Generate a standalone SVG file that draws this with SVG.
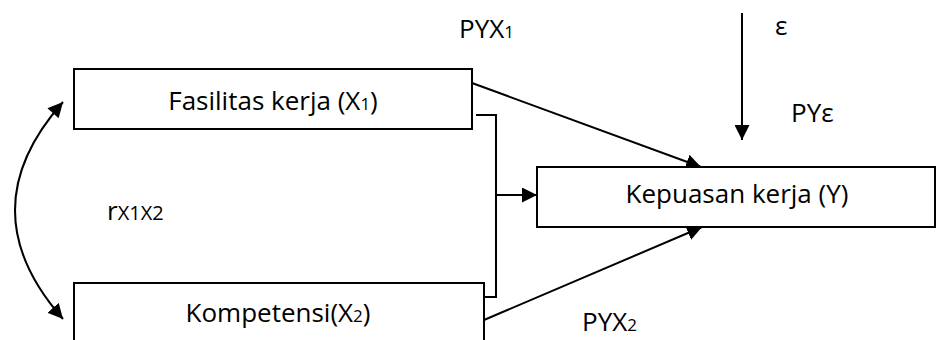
<svg xmlns="http://www.w3.org/2000/svg" width="936" height="340" viewBox="0 0 936 340">
  <style>
    .box { fill: #fff; stroke: #000; stroke-width: 2; }
    .lbl { font-family: "Open Sans", "Noto Sans", sans-serif; font-size: 26px; fill: #000; }
    .sub { font-size: 17px; }
    .mid { font-size: 20px; }
    .wire { fill: none; stroke: #000; stroke-width: 2; }
  </style>
  <defs>
    <marker id="head" markerUnits="userSpaceOnUse" markerWidth="16" markerHeight="15" refX="15" refY="7.5" orient="auto">
      <path d="M0,0 L15,7.5 L0,15 Z" fill="#000"/>
    </marker>
    <marker id="headStart" markerUnits="userSpaceOnUse" markerWidth="16" markerHeight="15" refX="0" refY="7.5" orient="auto">
      <path d="M15,0 L0,7.5 L15,15 Z" fill="#000"/>
    </marker>
  </defs>

  <g id="connectors">
    <!-- X1 -> Y -->
    <line class="wire" x1="472" y1="83" x2="701" y2="167" marker-end="url(#head)"/>
    <!-- X2 -> Y -->
    <line class="wire" x1="484" y1="320" x2="702" y2="227" marker-end="url(#head)"/>
    <!-- joint bracket X1 + X2 -> Y -->
    <polyline class="wire" points="476,115 496,115 496,297 484,297"/>
    <line class="wire" x1="496" y1="195" x2="537" y2="195" marker-end="url(#head)"/>
    <!-- error term -->
    <line class="wire" x1="742" y1="13" x2="742" y2="140" marker-end="url(#head)"/>
    <!-- correlation between X1 and X2 -->
    <path class="wire" d="M63,102 Q-33,210 63,319" marker-start="url(#headStart)" marker-end="url(#head)"/>
  </g>

  <g id="node-x1">
    <rect class="box" x="74" y="69" width="398" height="60"/>
    <text class="lbl" x="273" y="110" text-anchor="middle">Fasilitas kerja (X<tspan class="sub">1</tspan>)</text>
  </g>

  <g id="node-x2">
    <rect class="box" x="74" y="283" width="410" height="70"/>
    <text class="lbl" x="278" y="322" text-anchor="middle">Kompetensi(X<tspan class="sub">2</tspan>)</text>
  </g>

  <g id="node-y">
    <rect class="box" x="537" y="167" width="398" height="60"/>
    <text class="lbl" x="737" y="203" text-anchor="middle">Kepuasan kerja (Y)</text>
  </g>

  <g id="labels">
    <text class="lbl" x="459" y="38">PYX<tspan class="sub">1</tspan></text>
    <text class="lbl" x="775" y="35">ε</text>
    <text class="lbl" x="791" y="122">PYε</text>
    <text class="lbl" x="582" y="331">PYX<tspan class="sub">2</tspan></text>
    <text class="lbl" x="107" y="220">r<tspan class="mid">X1X2</tspan></text>
  </g>
</svg>
